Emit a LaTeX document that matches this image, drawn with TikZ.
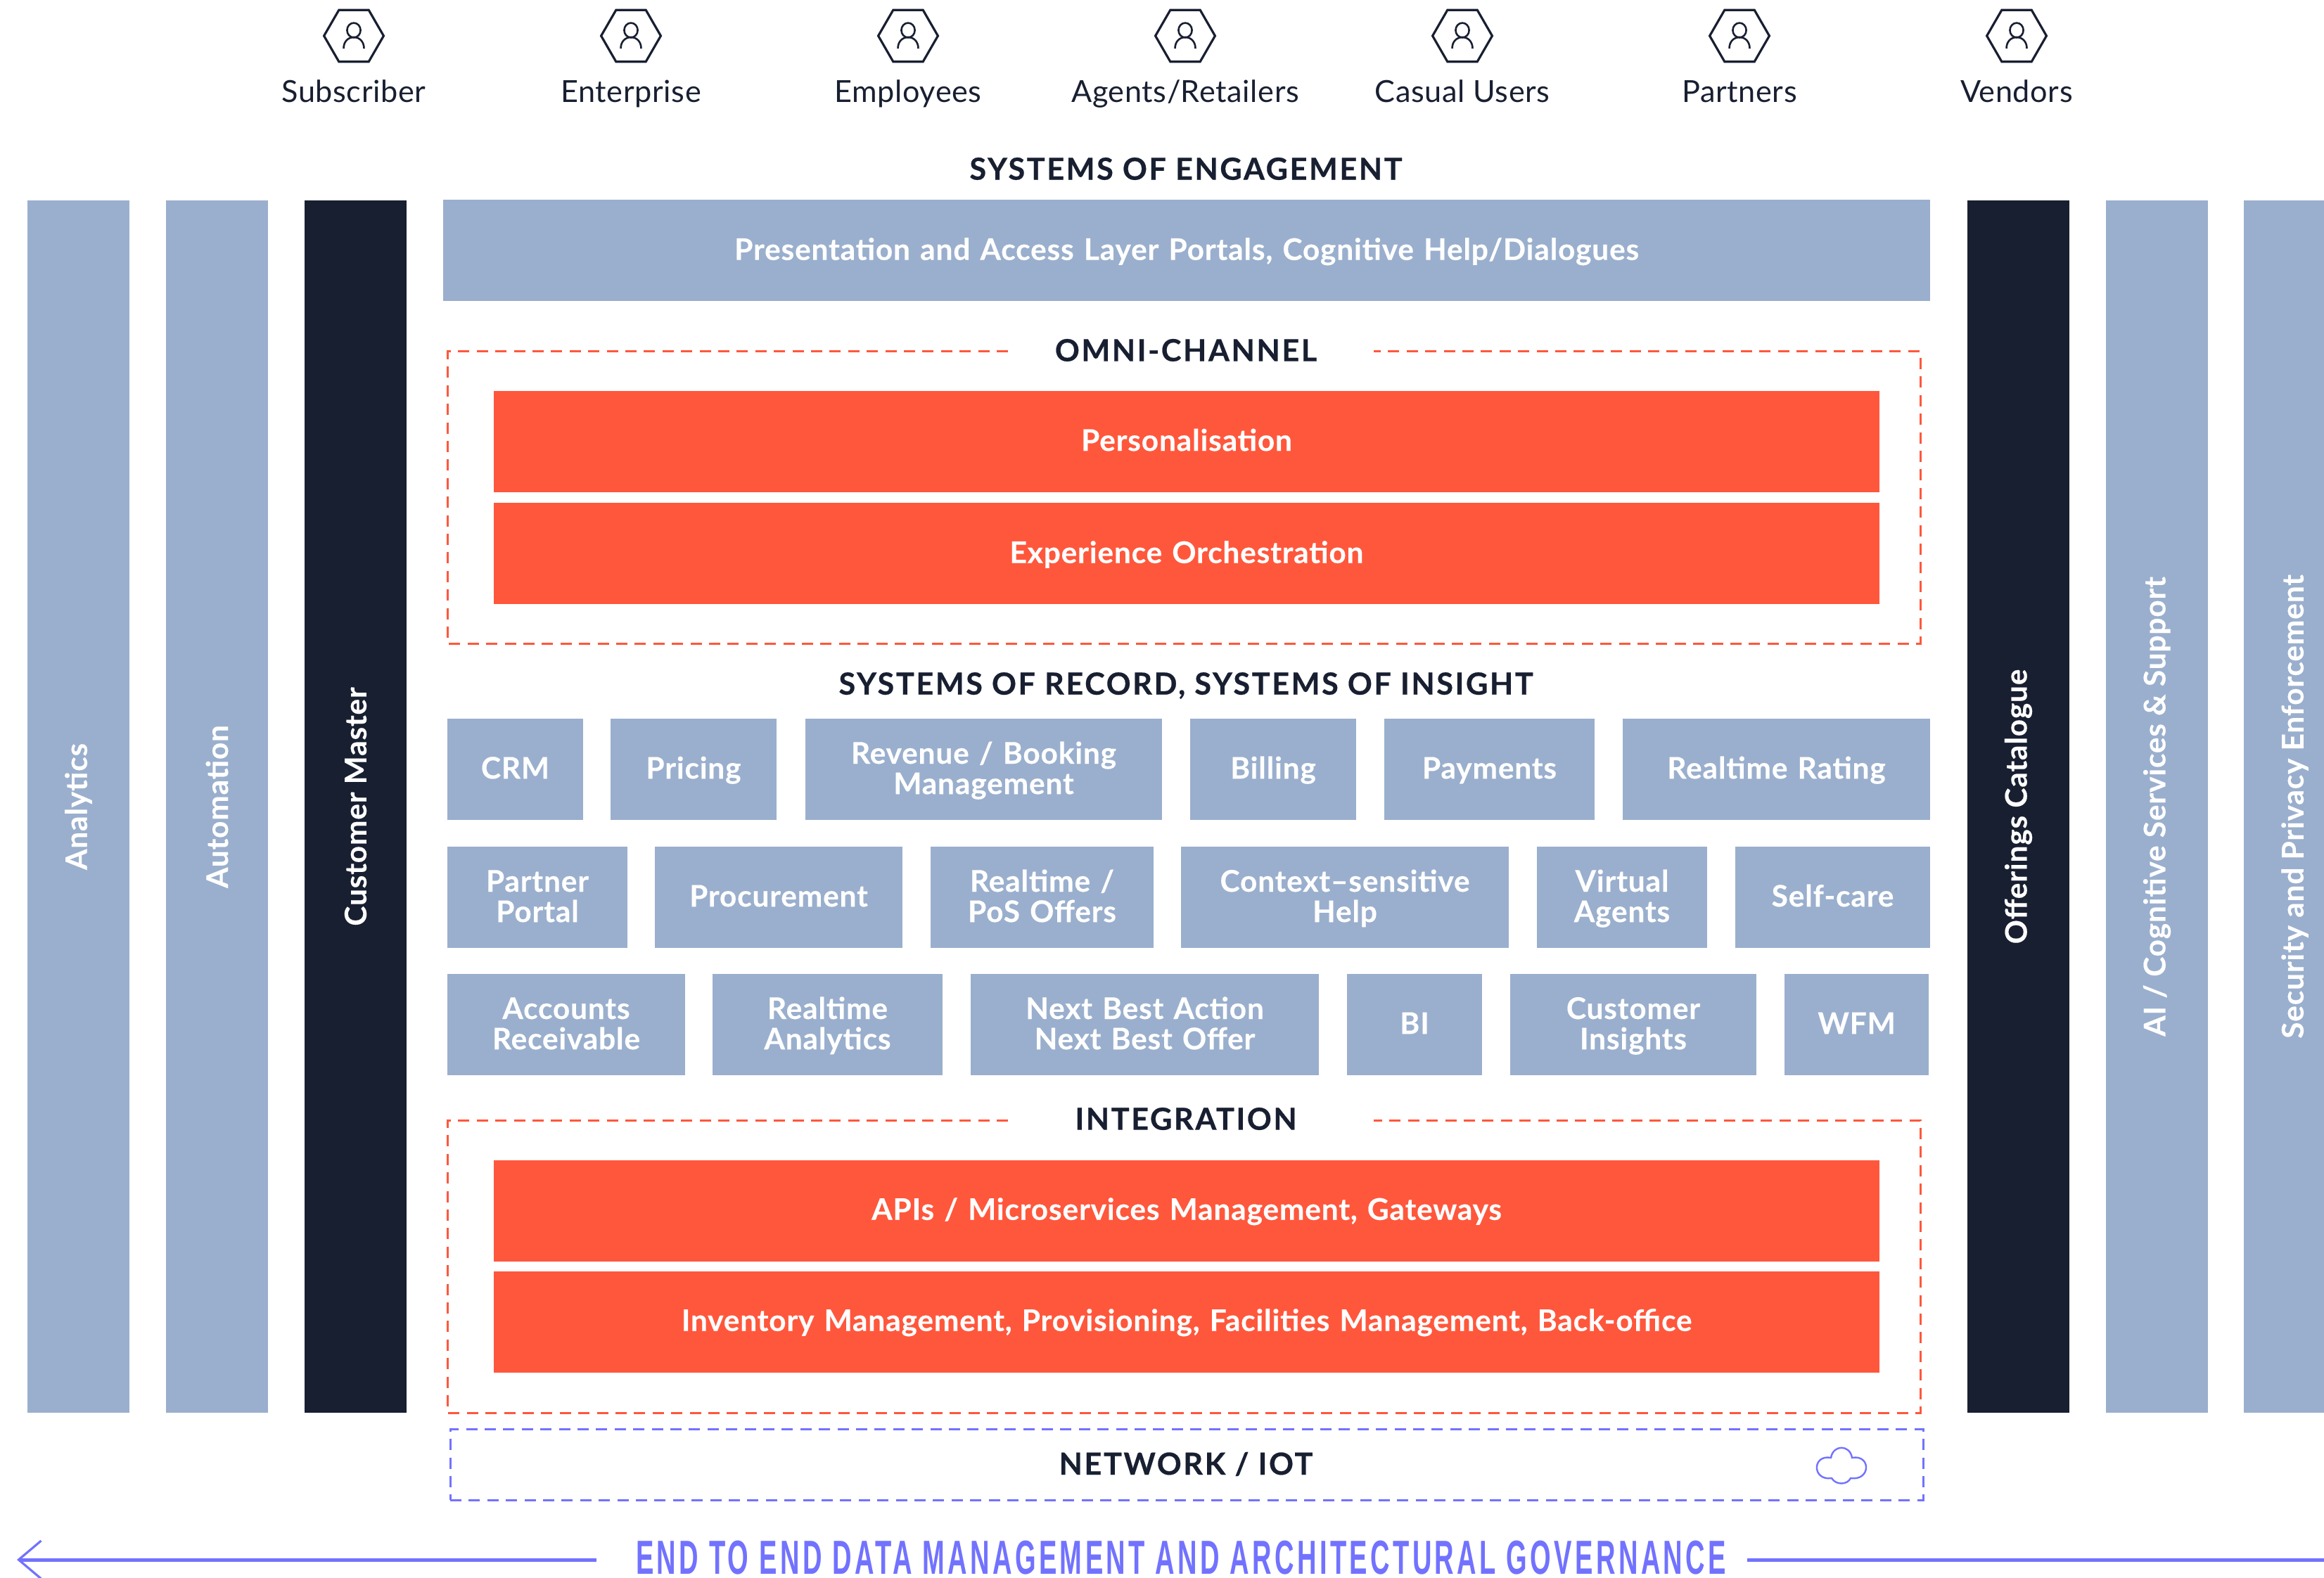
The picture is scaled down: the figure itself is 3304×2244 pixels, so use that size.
\documentclass[tikz,border=0pt]{standalone}
\usepackage{xcolor}
\usepackage{fontspec}
\usepackage{tikz}
\usetikzlibrary{shapes.geometric, arrows.meta, fit}
\setmainfont{Lato}
\newfontfamily\govfont[FakeStretch=0.56,LetterSpace=6.4]{Liberation Sans Bold}
\newfontfamily\headfont[LetterSpace=6,BoldFeatures={FakeBold=0.5}]{Lato}
\newfontfamily\boxfont[LetterSpace=2,BoldFeatures={FakeBold=0.25}]{Lato}
\newfontfamily\userfont[LetterSpace=1.5]{Lato}
\definecolor{steel}{HTML}{9AAFCD}
\definecolor{ink}{HTML}{181F31}
\definecolor{flame}{HTML}{FF573C}
\definecolor{indigo}{HTML}{7272FF}

\begin{document}
\begin{tikzpicture}[x=0.25pt, y=-0.25pt, arrow/.style = {line width=1.25pt, indigo, -{Straight Barb[length=8pt,width=13.5pt,line width=0.8pt]}}]
	\tikzset{box/.style={inner sep=0pt, align=center, text=white, font=\fontsize{10.6}{10.8}\boxfont\bfseries}}
	\tikzset{oneline/.style={text height=21.3pt, text depth=14.7pt}}
	\tikzset{twoline/.style={text height=16pt, text depth=20pt}}
	\tikzset{cell/.style={box, fill=steel}}
	\tikzset{bar/.style={box, fill=flame}}
	\tikzset{heading/.style={inner sep=0pt, text=ink, font=\fontsize{10.8}{12}\headfont\bfseries}}
	\tikzset{side/.style={rotate=90, white, inner sep=0pt, font=\fontsize{10.6}{11}\boxfont\bfseries}}
	\tikzset{user/.style={regular polygon, regular polygon sides=6, draw=ink, line width=0.8pt, inner sep=0pt, minimum size=21.2pt}}
	\tikzset{frame/.style={dash pattern=on 4pt off 2.6pt, line width=0.75pt}}

	\useasboundingbox (0,0) rectangle (3304,2244);
	\clip (0,0) rectangle (3304,2244);

	% Users
	\foreach \px/\who/\n in {503/Subscriber/a, 897/Enterprise/b, 1291/Employees/c, 1685/Agents\slash Retailers/d, 2079/Casual Users/e, 2473/Partners/f, 2867/Vendors/g} {
		\node[user] (hex\n) at (\px,51) {};
		\draw[ink, line width=0.65pt] (\px,43) ellipse [x radius=2.4pt, y radius=2.6pt];
		\draw[ink, line width=0.65pt] (\px-14.5,69) .. controls (\px-14.5,59) and (\px-8,53) .. (\px,53) .. controls (\px+8,53) and (\px+14.5,59) .. (\px+14.5,69);
		\node[anchor=base, ink, inner sep=0pt, font=\fontsize{10.8}{12}\userfont] (who\n) at (\px,146) {\who};
	}

	% Systems of engagement
	\node[heading] (engage) at (1686,240) {SYSTEMS OF ENGAGEMENT};
	\node[fit={(630,285) (2744,428)}, cell, oneline] (access) {Presentation and Access Layer Portals, Cognitive Help/Dialogues};

	% Pillars
	\node[fit={(39,285) (184,2009)}, fill=steel, inner sep=0pt] (analytics) {};
	\node[fit={(236,285) (381,2009)}, fill=steel, inner sep=0pt] (automation) {};
	\node[fit={(433,285) (578,2009)}, fill=ink, inner sep=0pt] (master) {};
	\node[fit={(2797,285) (2942,2009)}, fill=ink, inner sep=0pt] (catalogue) {};
	\node[fit={(2994,285) (3139,2009)}, fill=steel, inner sep=0pt] (support) {};
	\node[fit={(3190,285) (3335,2009)}, fill=steel, inner sep=0pt] (security) {};
	\node[side] (analyticstxt) at (analytics) {Analytics};
	\node[side] (automationtxt) at (automation) {Automation};
	\node[side] (mastertxt) at (master) {Customer Master};
	\node[side] (cataloguetxt) at (catalogue) {Offerings Catalogue};
	\node[side] (supporttxt) at (support) {AI / Cognitive Services \& Support};
	\node[side] (securitytxt) at (security) {Security and Privacy Enforcement};

	% Omni-channel
	\draw[frame, flame] (1433,500) -| (636,915) -| (2730,500) -- (1953,500);
	\node[heading] (omnihead) at (1686,498) {OMNI-CHANNEL};
	\node[fit={(702,556) (2672,700)}, bar, oneline] (personal) {Personalisation};
	\node[fit={(702,715) (2672,860)}, bar, oneline] (orchestr) {Experience Orchestration};

	% Systems of record
	\node[heading] (record) at (1686,975) {SYSTEMS OF RECORD, SYSTEMS OF INSIGHT};

	\node[fit={(636,1022) (829,1166)}, cell, oneline] (crm) {CRM};
	\node[fit={(868,1022) (1104,1166)}, cell, oneline] (pricing) {Pricing};
	\node[fit={(1145,1022) (1652,1166)}, cell, twoline] (revenue) {Revenue / Booking\\Management};
	\node[fit={(1692,1022) (1928,1166)}, cell, oneline] (billing) {Billing};
	\node[fit={(1968,1022) (2267,1166)}, cell, oneline] (payments) {Payments};
	\node[fit={(2307,1022) (2744,1166)}, cell, oneline] (rating) {Realtime Rating};

	\node[fit={(636,1204) (892,1348)}, cell, twoline] (portal) {Partner\\Portal};
	\node[fit={(931,1204) (1283,1348)}, cell, oneline] (procure) {Procurement};
	\node[fit={(1323,1204) (1640,1348)}, cell, twoline] (offers) {Realtime /\\PoS Offers};
	\node[fit={(1679,1204) (2145,1348)}, cell, twoline] (context) {Context–sensitive\\Help};
	\node[fit={(2185,1204) (2427,1348)}, cell, twoline] (virtual) {Virtual\\Agents};
	\node[fit={(2467,1204) (2744,1348)}, cell, oneline] (selfcare) {Self-care};

	\node[fit={(636,1385) (974,1529)}, cell, twoline] (accounts) {Accounts\\Receivable};
	\node[fit={(1013,1385) (1340,1529)}, cell, twoline] (realtime) {Realtime\\Analytics};
	\node[fit={(1380,1385) (1875,1529)}, cell, twoline] (nextbest) {Next Best Action\\Next Best Offer};
	\node[fit={(1915,1385) (2107,1529)}, cell, oneline] (bi) {BI};
	\node[fit={(2147,1385) (2497,1529)}, cell, twoline] (insights) {Customer\\Insights};
	\node[fit={(2537,1385) (2742,1529)}, cell, oneline] (wfm) {WFM};

	% Integration
	\draw[frame, flame] (1433,1593) -| (636,2009) -| (2730,1593) -- (1953,1593);
	\node[heading] (integrhead) at (1686,1591) {INTEGRATION};
	\node[fit={(702,1650) (2672,1793)}, bar, oneline] (apis) {APIs / Microservices Management, Gateways};
	\node[fit={(702,1808) (2672,1951)}, bar, oneline] (inventory) {Inventory Management, Provisioning, Facilities Management, Back-office};

	% Network
	\node[fit={(640,2032) (2734,2133)}, draw=indigo, frame, inner sep=0pt] (network) {};
	\node[heading] (nethead) at (1686,2082) {NETWORK / IOT};
	\draw[indigo, line width=0.6pt] (2603,2073) .. controls (2606,2054) and (2630,2054) .. (2633,2073) .. controls (2660,2068) and (2660,2106) .. (2631,2102) .. controls (2626,2112) and (2610,2112) .. (2604,2102) .. controls (2576,2106) and (2576,2068) .. (2603,2073) -- cycle;

	% Governance
	\node[inner sep=0pt, indigo, font=\fontsize{17}{20}\govfont] (gov) at (1679,2215) {END TO END DATA MANAGEMENT AND ARCHITECTURAL GOVERNANCE};
	\coordinate (govleft) at (24,2218);
	\coordinate (govright) at (3304,2218);
	\coordinate (govstart) at (848,2218);
	\coordinate (govend) at (2484,2218);
	\draw[arrow] (govstart) -- (govleft);
	\draw[line width=1.25pt, indigo] (govend) -- (govright);
\end{tikzpicture}
\end{document}
